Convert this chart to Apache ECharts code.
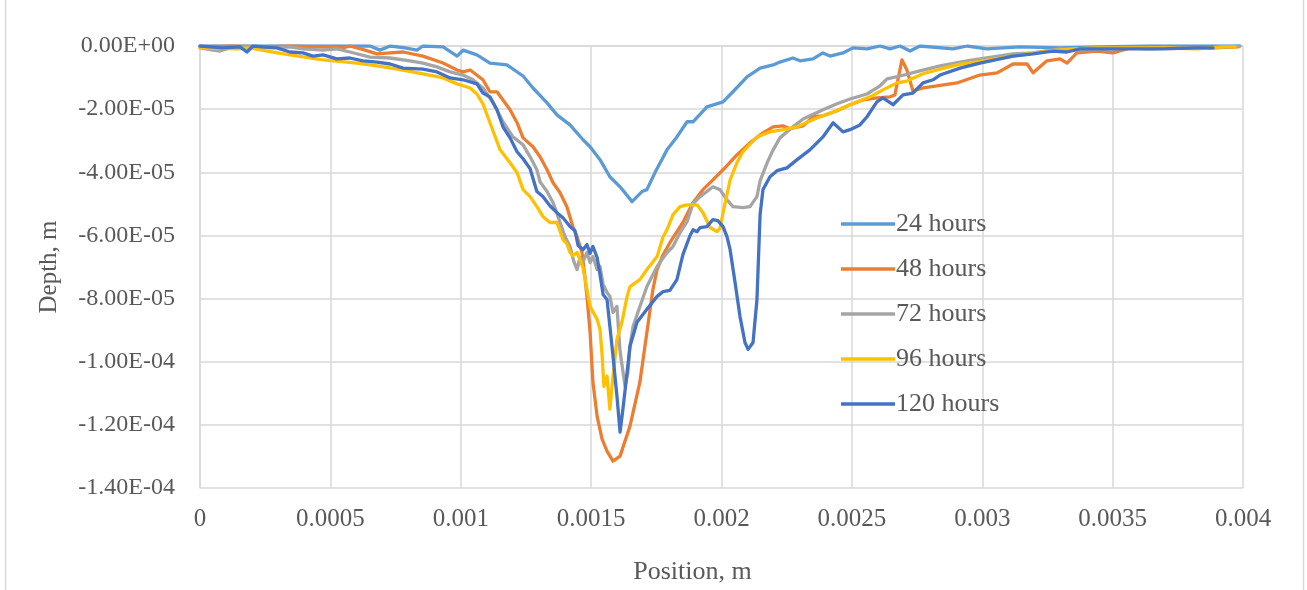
<!DOCTYPE html>
<html>
<head>
<meta charset="utf-8">
<script src="https://cdn.jsdelivr.net/npm/echarts@6/dist/echarts.min.js"></script>
<style>
  html, body { margin: 0; padding: 0; background: #ffffff; }
  #chart { width: 1307px; height: 590px; }
</style>
</head>
<body>
<div id="chart"></div>
<script>
// Wear-track depth profiles across the scar, [position (m), depth (m)]
const seriesNames = ['24 hours', '48 hours', '72 hours', '96 hours', '120 hours'];
const seriesColors = ['#5B9BD5', '#ED7D31', '#A5A5A5', '#FFC000', '#4472C4'];

const h24 = [[0,0],[0.000115,0],[0.000230,0],[0.000345,0],[0.000460,0],[0.000575,0],[0.000652,0],[0.000690,-0.13e-5],[0.000729,0],[0.000786,-0.06e-5],[0.000832,-0.13e-5],[0.000855,0],[0.000932,-0.03e-5],[0.000986,-0.32e-5],[0.001009,-0.13e-5],[0.001062,-0.28e-5],[0.001112,-0.54e-5],[0.001177,-0.60e-5],[0.001239,-0.95e-5],[0.001277,-1.33e-5],[0.001331,-1.80e-5],[0.001369,-2.18e-5],[0.001419,-2.50e-5],[0.001469,-2.97e-5],[0.001496,-3.19e-5],[0.001534,-3.60e-5],[0.001572,-4.14e-5],[0.001611,-4.46e-5],[0.001657,-4.93e-5],[0.001695,-4.61e-5],[0.001714,-4.55e-5],[0.001745,-4.01e-5],[0.001791,-3.29e-5],[0.001829,-2.88e-5],[0.001868,-2.40e-5],[0.001891,-2.40e-5],[0.001944,-1.93e-5],[0.002006,-1.77e-5],[0.002044,-1.45e-5],[0.002098,-0.98e-5],[0.002148,-0.70e-5],[0.002198,-0.60e-5],[0.002224,-0.51e-5],[0.002274,-0.38e-5],[0.002301,-0.47e-5],[0.002351,-0.41e-5],[0.002389,-0.22e-5],[0.002416,-0.32e-5],[0.002466,-0.22e-5],[0.002504,-0.06e-5],[0.002558,-0.09e-5],[0.002608,0],[0.002646,-0.09e-5],[0.002685,0],[0.002723,-0.16e-5],[0.002761,0],[0.002888,-0.09e-5],[0.002942,0],[0.003018,-0.09e-5],[0.003145,-0.03e-5],[0.003298,-0.06e-5],[0.003452,-0.03e-5],[0.003643,0],[0.003835,0],[0.003988,0]];

const h48 = [[0,-0.03e-5],[0.000115,0],[0.000230,-0.03e-5],[0.000345,0],[0.000460,-0.03e-5],[0.000548,-0.06e-5],[0.000575,0],[0.000633,-0.13e-5],[0.000679,-0.25e-5],[0.000729,-0.22e-5],[0.000779,-0.19e-5],[0.000855,-0.32e-5],[0.000932,-0.54e-5],[0.000986,-0.76e-5],[0.001009,-0.82e-5],[0.001036,-0.76e-5],[0.001085,-1.07e-5],[0.001112,-1.45e-5],[0.001139,-1.45e-5],[0.001162,-1.71e-5],[0.001189,-2.02e-5],[0.001216,-2.43e-5],[0.001239,-2.91e-5],[0.001277,-3.19e-5],[0.001304,-3.51e-5],[0.001331,-3.92e-5],[0.001354,-4.33e-5],[0.001381,-4.65e-5],[0.001407,-5.09e-5],[0.001430,-5.72e-5],[0.001446,-6.04e-5],[0.001465,-6.54e-5],[0.001476,-7.30e-5],[0.001484,-7.93e-5],[0.001496,-9.07e-5],[0.001507,-10.65e-5],[0.001523,-11.73e-5],[0.001542,-12.45e-5],[0.001561,-12.83e-5],[0.001584,-13.15e-5],[0.001611,-12.99e-5],[0.001649,-12.04e-5],[0.001687,-10.65e-5],[0.001714,-9.07e-5],[0.001737,-7.71e-5],[0.001753,-7.08e-5],[0.001776,-6.61e-5],[0.001802,-6.23e-5],[0.001852,-5.59e-5],[0.001891,-4.96e-5],[0.001929,-4.55e-5],[0.001967,-4.24e-5],[0.002006,-3.92e-5],[0.002059,-3.45e-5],[0.002109,-3.07e-5],[0.002159,-2.75e-5],[0.002198,-2.56e-5],[0.002236,-2.53e-5],[0.002263,-2.62e-5],[0.002313,-2.53e-5],[0.002351,-2.24e-5],[0.002389,-2.21e-5],[0.002443,-2.05e-5],[0.002493,-1.86e-5],[0.002543,-1.71e-5],[0.002596,-1.64e-5],[0.002646,-1.61e-5],[0.002665,-1.55e-5],[0.002692,-0.44e-5],[0.002711,-0.76e-5],[0.002734,-1.42e-5],[0.002773,-1.33e-5],[0.002826,-1.26e-5],[0.002903,-1.17e-5],[0.002991,-0.92e-5],[0.003057,-0.85e-5],[0.003118,-0.57e-5],[0.003172,-0.57e-5],[0.003195,-0.85e-5],[0.003248,-0.47e-5],[0.003298,-0.41e-5],[0.003325,-0.54e-5],[0.003363,-0.22e-5],[0.003440,-0.16e-5],[0.003501,-0.22e-5],[0.003567,-0.06e-5],[0.003632,-0.09e-5],[0.003758,-0.06e-5],[0.003885,-0.06e-5],[0.003981,-0.03e-5]];

const h72 = [[0,-0.06e-5],[0.000050,-0.13e-5],[0.000077,-0.16e-5],[0.000115,-0.06e-5],[0.000192,-0.03e-5],[0.000268,-0.06e-5],[0.000345,-0.03e-5],[0.000395,-0.09e-5],[0.000472,-0.13e-5],[0.000525,-0.09e-5],[0.000575,-0.19e-5],[0.000652,-0.35e-5],[0.000729,-0.38e-5],[0.000805,-0.47e-5],[0.000855,-0.54e-5],[0.000909,-0.66e-5],[0.000959,-0.82e-5],[0.001009,-0.92e-5],[0.001047,-1.07e-5],[0.001085,-1.33e-5],[0.001124,-1.80e-5],[0.001162,-2.40e-5],[0.001200,-2.88e-5],[0.001239,-3.13e-5],[0.001266,-3.51e-5],[0.001292,-3.92e-5],[0.001304,-4.30e-5],[0.001331,-4.61e-5],[0.001354,-4.96e-5],[0.001381,-5.59e-5],[0.001400,-6.04e-5],[0.001419,-6.35e-5],[0.001434,-6.83e-5],[0.001446,-7.08e-5],[0.001457,-6.70e-5],[0.001469,-6.83e-5],[0.001484,-6.54e-5],[0.001496,-6.86e-5],[0.001507,-6.67e-5],[0.001523,-7.08e-5],[0.001534,-6.98e-5],[0.001546,-7.55e-5],[0.001561,-7.81e-5],[0.001572,-7.93e-5],[0.001584,-8.44e-5],[0.001599,-8.25e-5],[0.001611,-9.67e-5],[0.001630,-10.78e-5],[0.001641,-10.34e-5],[0.001649,-9.51e-5],[0.001661,-8.88e-5],[0.001687,-8.25e-5],[0.001714,-7.62e-5],[0.001753,-6.98e-5],[0.001791,-6.54e-5],[0.001814,-6.35e-5],[0.001841,-5.91e-5],[0.001868,-5.56e-5],[0.001891,-4.99e-5],[0.001918,-4.77e-5],[0.001944,-4.61e-5],[0.001967,-4.46e-5],[0.001994,-4.55e-5],[0.002021,-4.87e-5],[0.002044,-5.09e-5],[0.002082,-5.12e-5],[0.002109,-5.09e-5],[0.002136,-4.77e-5],[0.002148,-4.27e-5],[0.002175,-3.70e-5],[0.002198,-3.29e-5],[0.002224,-2.91e-5],[0.002274,-2.56e-5],[0.002313,-2.31e-5],[0.002389,-2.02e-5],[0.002443,-1.83e-5],[0.002493,-1.68e-5],[0.002558,-1.52e-5],[0.002608,-1.26e-5],[0.002635,-1.04e-5],[0.002685,-0.95e-5],[0.002761,-0.79e-5],[0.002838,-0.63e-5],[0.002942,-0.47e-5],[0.003018,-0.38e-5],[0.003118,-0.25e-5],[0.003195,-0.22e-5],[0.003298,-0.09e-5],[0.003375,-0.13e-5],[0.003501,-0.09e-5],[0.003632,-0.06e-5],[0.003758,-0.06e-5],[0.003885,-0.06e-5],[0.003988,0]];

const h96 = [[0,-0.06e-5],[0.000142,-0.09e-5],[0.000192,-0.06e-5],[0.000257,-0.16e-5],[0.000345,-0.28e-5],[0.000472,-0.44e-5],[0.000602,-0.54e-5],[0.000679,-0.63e-5],[0.000756,-0.73e-5],[0.000855,-0.88e-5],[0.000932,-1.01e-5],[0.000986,-1.20e-5],[0.001036,-1.33e-5],[0.001062,-1.52e-5],[0.001085,-1.83e-5],[0.001112,-2.43e-5],[0.001151,-3.29e-5],[0.001189,-3.70e-5],[0.001216,-4.01e-5],[0.001239,-4.55e-5],[0.001266,-4.77e-5],[0.001292,-5.09e-5],[0.001315,-5.40e-5],[0.001342,-5.59e-5],[0.001369,-5.59e-5],[0.001392,-6.13e-5],[0.001407,-6.26e-5],[0.001419,-6.54e-5],[0.001430,-6.64e-5],[0.001446,-6.54e-5],[0.001469,-7.02e-5],[0.001496,-8.25e-5],[0.001523,-8.66e-5],[0.001534,-8.98e-5],[0.001542,-9.77e-5],[0.001549,-10.78e-5],[0.001561,-10.46e-5],[0.001572,-11.50e-5],[0.001584,-10.46e-5],[0.001599,-9.29e-5],[0.001618,-8.75e-5],[0.001638,-7.93e-5],[0.001649,-7.62e-5],[0.001687,-7.40e-5],[0.001714,-7.08e-5],[0.001753,-6.67e-5],[0.001776,-6.04e-5],[0.001791,-5.82e-5],[0.001814,-5.34e-5],[0.001841,-5.09e-5],[0.001868,-5.03e-5],[0.001906,-5.03e-5],[0.001929,-5.28e-5],[0.001956,-5.75e-5],[0.001983,-5.88e-5],[0.001994,-5.78e-5],[0.002006,-5.28e-5],[0.002033,-4.24e-5],[0.002059,-3.70e-5],[0.002082,-3.35e-5],[0.002136,-2.88e-5],[0.002186,-2.72e-5],[0.002236,-2.65e-5],[0.002290,-2.56e-5],[0.002366,-2.28e-5],[0.002428,-2.09e-5],[0.002493,-1.86e-5],[0.002570,-1.61e-5],[0.002619,-1.39e-5],[0.002673,-1.17e-5],[0.002711,-1.11e-5],[0.002773,-0.88e-5],[0.002838,-0.73e-5],[0.002903,-0.60e-5],[0.003003,-0.47e-5],[0.003118,-0.32e-5],[0.003248,-0.16e-5],[0.003348,-0.09e-5],[0.003440,-0.06e-5],[0.003567,-0.06e-5],[0.003693,-0.06e-5],[0.003824,-0.09e-5],[0.003923,-0.03e-5],[0.003969,-0.03e-5]];

const h120 = [[0,0],[0.000088,-0.06e-5],[0.000153,-0.03e-5],[0.000180,-0.19e-5],[0.000203,0],[0.000242,-0.03e-5],[0.000295,-0.06e-5],[0.000345,-0.19e-5],[0.000395,-0.22e-5],[0.000433,-0.32e-5],[0.000472,-0.28e-5],[0.000525,-0.41e-5],[0.000575,-0.38e-5],[0.000625,-0.47e-5],[0.000679,-0.51e-5],[0.000729,-0.57e-5],[0.000779,-0.70e-5],[0.000855,-0.73e-5],[0.000909,-0.82e-5],[0.000959,-1.01e-5],[0.001009,-1.07e-5],[0.001062,-1.20e-5],[0.001085,-1.49e-5],[0.001112,-1.61e-5],[0.001139,-2.02e-5],[0.001162,-2.56e-5],[0.001189,-2.91e-5],[0.001216,-3.35e-5],[0.001239,-3.57e-5],[0.001266,-3.89e-5],[0.001292,-4.61e-5],[0.001315,-4.77e-5],[0.001342,-5.06e-5],[0.001369,-5.28e-5],[0.001392,-5.44e-5],[0.001419,-5.72e-5],[0.001438,-5.85e-5],[0.001450,-6.32e-5],[0.001469,-6.45e-5],[0.001484,-6.29e-5],[0.001496,-6.57e-5],[0.001507,-6.35e-5],[0.001523,-6.70e-5],[0.001534,-7.24e-5],[0.001546,-7.87e-5],[0.001561,-8.03e-5],[0.001572,-8.88e-5],[0.001584,-9.83e-5],[0.001599,-11.09e-5],[0.001611,-12.23e-5],[0.001622,-11.50e-5],[0.001638,-10.34e-5],[0.001649,-9.51e-5],[0.001676,-8.75e-5],[0.001714,-8.34e-5],[0.001753,-7.93e-5],[0.001776,-7.78e-5],[0.001802,-7.74e-5],[0.001829,-7.40e-5],[0.001852,-6.61e-5],[0.001879,-6.01e-5],[0.001891,-5.82e-5],[0.001906,-5.88e-5],[0.001918,-5.75e-5],[0.001944,-5.72e-5],[0.001967,-5.50e-5],[0.001986,-5.53e-5],[0.002006,-5.72e-5],[0.002021,-6.04e-5],[0.002033,-6.45e-5],[0.002052,-7.49e-5],[0.002071,-8.57e-5],[0.002090,-9.39e-5],[0.002102,-9.61e-5],[0.002121,-9.39e-5],[0.002136,-8.03e-5],[0.002148,-5.34e-5],[0.002159,-4.55e-5],[0.002186,-4.14e-5],[0.002213,-3.95e-5],[0.002251,-3.86e-5],[0.002290,-3.60e-5],[0.002339,-3.29e-5],[0.002389,-2.88e-5],[0.002428,-2.43e-5],[0.002466,-2.72e-5],[0.002493,-2.65e-5],[0.002531,-2.50e-5],[0.002558,-2.24e-5],[0.002596,-1.77e-5],[0.002619,-1.64e-5],[0.002658,-1.86e-5],[0.002696,-1.55e-5],[0.002734,-1.49e-5],[0.002773,-1.17e-5],[0.002811,-1.07e-5],[0.002838,-0.92e-5],[0.002915,-0.70e-5],[0.002991,-0.54e-5],[0.003068,-0.41e-5],[0.003118,-0.32e-5],[0.003195,-0.25e-5],[0.003271,-0.16e-5],[0.003325,-0.19e-5],[0.003375,-0.09e-5],[0.003452,-0.09e-5],[0.003567,-0.09e-5],[0.003693,-0.09e-5],[0.003824,-0.06e-5],[0.003885,-0.06e-5]];

const seriesData = [h24, h48, h72, h96, h120];

const TEXT = '#595959';
const GRID = '#D9D9D9';
const FONT = '"Liberation Serif", "Times New Roman", serif';

// Excel-style scientific label, e.g. -2.00E-05
function sci(v) {
  const s = Number(v).toExponential(2).split('e');
  const e = parseInt(s[1], 10);
  return s[0] + 'E' + (e < 0 ? '-' : '+') + String(Math.abs(e)).padStart(2, '0');
}

const chart = echarts.init(document.getElementById('chart'), null, { renderer: 'canvas' });

chart.setOption({
  animation: false,
  backgroundColor: '#ffffff',
  grid: { left: 200, right: 64, top: 46, bottom: 101, containLabel: false },
  legend: {
    orient: 'vertical',
    left: 836,
    top: 206,
    itemWidth: 54,
    itemHeight: 14,
    itemGap: 19,
    icon: 'path://M0,5.5 L54,5.5 L54,9 L0,9 Z',
    textStyle: { fontFamily: FONT, fontSize: 26, color: TEXT, padding: [0, 0, 0, -4] },
    data: seriesNames
  },
  xAxis: {
    type: 'value',
    min: 0,
    max: 0.004,
    interval: 0.0005,
    name: 'Position, m',
    nameLocation: 'middle',
    nameGap: 71,
    nameTextStyle: { fontFamily: FONT, fontSize: 26, color: TEXT, padding: [0, 58, 0, 0] },
    axisLine: { show: true, lineStyle: { color: GRID, width: 1.5 } },
    axisTick: { show: false },
    axisLabel: {
      fontFamily: FONT, fontSize: 25, color: TEXT, margin: 19,
      formatter: v => String(+Number(v).toFixed(4))
    },
    splitLine: { show: true, lineStyle: { color: GRID, width: 1.5 } }
  },
  yAxis: {
    type: 'value',
    min: -1.4e-4,
    max: 0,
    interval: 2e-5,
    name: 'Depth, m',
    nameLocation: 'middle',
    nameGap: 138,
    nameRotate: 90,
    nameTextStyle: { fontFamily: FONT, fontSize: 25, color: TEXT },
    axisLine: { show: true, lineStyle: { color: GRID, width: 1.5 } },
    axisTick: { show: false },
    axisLabel: {
      fontFamily: FONT, fontSize: 24, color: TEXT, margin: 25,
      formatter: v => sci(v)
    },
    splitLine: { show: true, lineStyle: { color: GRID, width: 1.5 } }
  },
  graphic: [
    { type: 'line', shape: { x1: 5.5, y1: 0, x2: 5.5, y2: 590 }, style: { stroke: GRID, lineWidth: 1.5 }, silent: true },
    { type: 'line', shape: { x1: 1303.5, y1: 0, x2: 1303.5, y2: 590 }, style: { stroke: GRID, lineWidth: 1.5 }, silent: true }
  ],
  series: seriesNames.map((name, i) => ({
    name: name,
    type: 'line',
    data: seriesData[i],
    showSymbol: false,
    symbol: 'none',
    color: seriesColors[i],
    lineStyle: { color: seriesColors[i], width: 3.3, join: 'round', cap: 'round' },
    z: 2 + i
  }))
});
</script>
</body>
</html>
